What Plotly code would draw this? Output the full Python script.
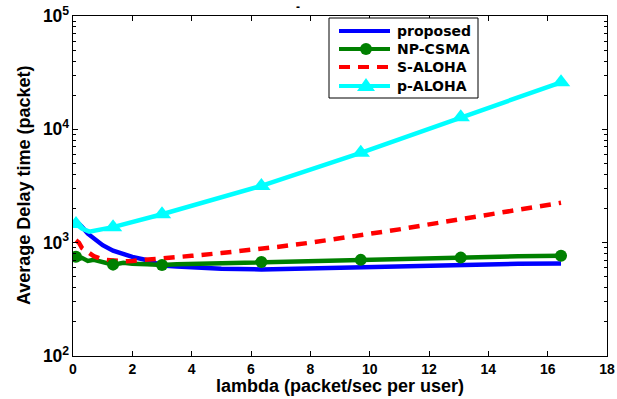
import plotly.graph_objects as go

# ---- data ----
lam = [0.1, 0.2, 0.3, 0.5, 0.7, 1.0, 1.35, 1.7, 2.0, 2.5, 3.0, 3.5, 4.0, 5.0,
       6.35, 7.0, 8.0, 9.0, 9.7, 11.0, 12.0, 13.07, 14.0, 15.0, 16.45]
proposed = [1560, 1480, 1380, 1200, 1080, 950, 850, 790, 750, 700, 630, 615, 605, 590,
            580, 585, 595, 605, 612, 625, 632, 640, 645, 650, 655]
np_csma = [750, 720, 735, 690, 705, 675, 640, 665, 650, 645, 635, 645, 650, 660,
           675, 680, 690, 700, 705, 718, 728, 738, 748, 758, 768]
s_aloha = [1050, 1000, 900, 820, 760, 710, 690, 685, 690, 705, 725, 745, 765, 810,
           880, 925, 1000, 1090, 1160, 1310, 1450, 1620, 1780, 1960, 2250]
lam_p = [0.1, 0.3, 0.55, 1.35, 3.0, 6.35, 9.7, 13.07, 16.45]
p_aloha = [1460, 1330, 1250, 1370, 1780, 3170, 6200, 12800, 26000]
marker_lam = [0.1, 1.35, 3.0, 6.35, 9.7, 13.07, 16.45]
series_names = ["proposed", "NP-CSMA", "S-ALOHA", "p-ALOHA"]

x_ticks = [0, 2, 4, 6, 8, 10, 12, 14, 16, 18]

BLUE, GREEN, RED, CYAN = "#0000ff", "#008000", "#ff0000", "#00ffff"
LW = 4.5
DASH = "11px,8px"

W, H = 617, 399
ML, MR, MT, MB = 73, 10, 16, 43
PW, PH = W - ML - MR, H - MT - MB


def px(xp):
    return (xp - ML) / PW


def py(yp):
    return (H - MB - yp) / PH


fig = go.Figure()

# lines
fig.add_trace(go.Scatter(x=lam, y=proposed, mode="lines", line=dict(color=BLUE, width=LW),
                         showlegend=False))
fig.add_trace(go.Scatter(x=lam, y=np_csma, mode="lines", line=dict(color=GREEN, width=LW),
                         showlegend=False))
fig.add_trace(go.Scatter(x=lam, y=s_aloha, mode="lines",
                         line=dict(color=RED, width=LW, dash=DASH), showlegend=False))
fig.add_trace(go.Scatter(x=lam_p, y=p_aloha, mode="lines", line=dict(color=CYAN, width=LW),
                         showlegend=False))

# markers
g_mx = [x for x in lam if x in marker_lam]
g_my = [y for x, y in zip(lam, np_csma) if x in marker_lam]
fig.add_trace(go.Scatter(x=g_mx, y=g_my, mode="markers",
                         marker=dict(color=GREEN, size=12, symbol="circle"), showlegend=False))
c_mx = [x for x in lam_p if x in marker_lam]
c_my = [y for x, y in zip(lam_p, p_aloha) if x in marker_lam]
fig.add_trace(go.Scatter(x=c_mx, y=c_my, mode="markers",
                         marker=dict(color=CYAN, size=16, symbol="triangle-up"), showlegend=False))

# ---- custom legend (box, samples, texts) ----
LEG_FONT = "DejaVu Sans, Liberation Sans, sans-serif"
shapes = [dict(type="rect", xref="paper", yref="paper", x0=px(329), x1=px(478),
               y0=py(98), y1=py(18), line=dict(color="black", width=1),
               fillcolor="white", layer="above")]
item_y = [31, 49, 67, 86]
colors = [BLUE, GREEN, RED, CYAN]
dashes = ["solid", "solid", DASH, "solid"]
for yy, c, d in zip(item_y, colors, dashes):
    shapes.append(dict(type="line", xref="paper", yref="paper", x0=px(339), x1=px(390),
                       y0=py(yy), y1=py(yy), line=dict(color=c, width=4, dash=d),
                       layer="above"))
# circle marker for NP-CSMA
r = 6
shapes.append(dict(type="circle", xref="paper", yref="paper",
                   x0=px(366 - r), x1=px(366 + r), y0=py(49 + r), y1=py(49 - r),
                   fillcolor=GREEN, line=dict(color=GREEN, width=0), layer="above"))
# triangle marker for p-ALOHA
tx, ty = 366, 86
shapes.append(dict(type="path", xref="paper", yref="paper",
                   path=f"M{px(tx-9)},{py(ty+5)} L{px(tx+9)},{py(ty+5)} L{px(tx)},{py(ty-8)} Z",
                   fillcolor=CYAN, line=dict(color=CYAN, width=0), layer="above"))

annotations = []
for yy, name in zip(item_y, series_names):
    annotations.append(dict(text=name, xref="paper", yref="paper", x=px(395), y=py(yy),
                            xanchor="left", yanchor="middle", showarrow=False,
                            font=dict(family=LEG_FONT, size=14, weight="bold", color="black")))

annotations += [
    dict(text="lambda (packet/sec per user)", xref="paper", yref="paper",
         x=px(340), y=py(386), xanchor="center", yanchor="middle", showarrow=False,
         font=dict(size=18, weight="bold")),
    dict(text="Average Delay time (packet)", xref="paper", yref="paper",
         x=px(24), y=py(186), xanchor="center", yanchor="middle", showarrow=False,
         textangle=-90, font=dict(size=18, weight="bold")),
]

FONT = "Liberation Sans, Arial, sans-serif"
fig.update_layout(
    width=W, height=H,
    margin=dict(l=ML, r=MR, t=MT, b=MB, autoexpand=False),
    paper_bgcolor="white", plot_bgcolor="white",
    showlegend=False,
    font=dict(family=FONT, color="black", size=13, weight="bold"),
    title=dict(text="-", x=298 / W, y=1 - 7 / H, xanchor="center", yanchor="middle",
               font=dict(size=12, weight="bold")),
    xaxis=dict(range=[0, 18], tickvals=x_ticks, automargin=False,
               showgrid=False, zeroline=False, showline=True, linecolor="black", linewidth=1,
               mirror="allticks", ticks="inside", ticklen=5, tickcolor="black",
               tickfont=dict(size=14, weight="bold")),
    yaxis=dict(type="log", range=[2, 5], dtick=1, exponentformat="power", automargin=False,
               showgrid=False, zeroline=False, showline=True, linecolor="black", linewidth=1,
               mirror="allticks", ticks="inside", ticklen=5, tickcolor="black",
               tickfont=dict(size=14, weight="bold"),
               minor=dict(ticks="inside", ticklen=3, tickcolor="black", dtick="D1",
                          showgrid=False)),
    shapes=shapes,
    annotations=annotations,
)

fig.write_html("out.html", config={"displayModeBar": False},
               post_script="document.body.style.margin='0px';")
